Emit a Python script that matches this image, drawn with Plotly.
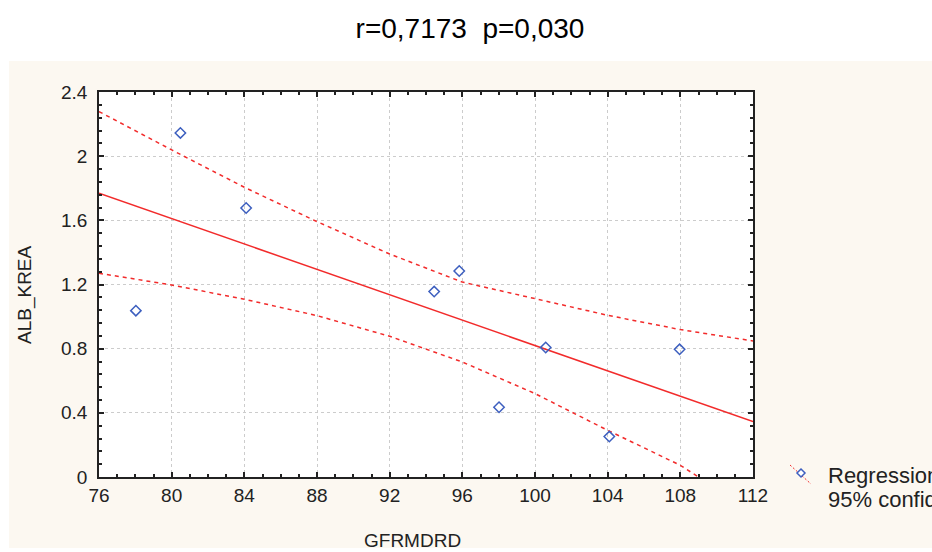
#!/usr/bin/env python

"""
Scatter of ALB_KREA against GFRMDRD with regression line and 95% confidence band.
"""
import plotly.graph_objs as go

################################################################################
################################# Chart Data ###################################
################################################################################

GFR = [80.48, 84.10, 78.03, 95.83, 94.45, 100.59, 98.02, 104.09, 107.96]
ALB_KREA = [2.145, 1.677, 1.037, 1.284, 1.156, 0.807, 0.435, 0.252, 0.796]

### Regression line end points
REG_X = [76, 112]
REG_Y = [1.769, 0.345]

### Confidence band, read at the grid lines
UPPER_X = [76, 80, 84, 88, 92, 96, 100, 104, 108, 112]
UPPER_Y = [2.278, 2.039, 1.806, 1.592, 1.390, 1.215, 1.112, 1.008, 0.919, 0.848]
LOWER_X = [76, 80, 84, 88, 92, 96, 100, 104, 108, 109.0]
LOWER_Y = [1.270, 1.197, 1.108, 1.006, 0.877, 0.717, 0.520, 0.291, 0.073, 0.0]

X_TICKS = [76, 80, 84, 88, 92, 96, 100, 104, 108, 112]
Y_TICKS = [0, 0.4, 0.8, 1.2, 1.6, 2.0, 2.4]
Y_TICK_TEXT = ['0', '0.4', '0.8', '1.2', '1.6', '2', '2.4']

TITLE = 'r=0,7173  p=0,030'

################################################################################
################################### Styles #####################################
################################################################################

CREAM = '#fcf8f1'
RED = '#f22b2b'
BLUE = '#3d5fbf'
FONT = 'Liberation Sans, Arial, sans-serif'
W, H = 932, 552
L, R, T, B = 99, 179, 92, 75
PW, PH = W - L - R, H - T - B


def px(x):
    return (x - L) / PW


def py(y):
    return (H - B - y) / PH


################################################################################
################################### Figure #####################################
################################################################################

fig = go.Figure()

fig.add_trace(go.Scatter(x=UPPER_X, y=UPPER_Y, mode='lines', showlegend=False,
                         line=dict(color=RED, width=1.5, dash='4px,4px')))
fig.add_trace(go.Scatter(x=LOWER_X, y=LOWER_Y, mode='lines', showlegend=False,
                         line=dict(color=RED, width=1.5, dash='4px,4px')))
fig.add_trace(go.Scatter(x=REG_X, y=REG_Y, mode='lines', showlegend=False,
                         line=dict(color=RED, width=1.5)))
fig.add_trace(go.Scatter(x=GFR, y=ALB_KREA, mode='markers', showlegend=False,
                         marker=dict(symbol='diamond-open', size=8, color=BLUE,
                                     line=dict(width=1.5, color=BLUE))))

axis_common = dict(
    showline=True, linecolor='#222222', linewidth=1.5, mirror='ticks',
    ticks='inside', ticklen=5, tickwidth=1.5, tickcolor='#222222',
    showgrid=True, gridcolor='#cccccc', griddash='dot', gridwidth=1,
    zeroline=False, tickfont=dict(family=FONT, size=19, color='#222222'),
)

fig.update_xaxes(range=[76, 112], tickvals=X_TICKS,
                 minor=dict(dtick=1, ticks='inside', ticklen=3, tickwidth=1.5,
                            tickcolor='#222222', showgrid=False),
                 **axis_common)
fig.update_yaxes(range=[0, 2.4], tickvals=Y_TICKS, ticktext=Y_TICK_TEXT,
                 ticklabelstandoff=6,
                 minor=dict(dtick=0.08, ticks='inside', ticklen=3, tickwidth=1.5,
                            tickcolor='#222222', showgrid=False),
                 **axis_common)

### Cream panel behind everything, white plot area on top of it
shapes = [
    dict(type='rect', xref='paper', yref='paper', layer='below',
         x0=px(9), x1=px(940), y0=py(548), y1=py(61),
         fillcolor=CREAM, line=dict(width=0)),
    dict(type='rect', xref='paper', yref='paper', layer='below',
         x0=0, x1=1, y0=0, y1=1, fillcolor='white', line=dict(width=0)),
    ### Legend icon
    dict(type='line', xref='paper', yref='paper',
         x0=px(790), y0=py(465), x1=px(811), y1=py(484),
         line=dict(color=RED, width=1, dash='2px,2px')),
    dict(type='path', xref='paper', yref='paper',
         path='M {a},{b} L {c},{d} L {a},{e} L {f},{d} Z'.format(
             a=px(801), b=py(469), c=px(805), d=py(473), e=py(477), f=px(797)),
         fillcolor='white', line=dict(color=BLUE, width=1.5)),
]

annotations = [
    dict(text='ALB_KREA', xref='paper', yref='paper', x=px(25), y=py(295),
         textangle=-90, showarrow=False, xanchor='center', yanchor='middle',
         font=dict(family=FONT, size=19, color='#222222')),
    dict(text='GFRMDRD', xref='paper', yref='paper', x=px(412), y=py(540),
         showarrow=False, xanchor='center', yanchor='middle',
         font=dict(family=FONT, size=19, color='#222222')),
    ### Legend text runs off the right edge, as in the original
    dict(text='Regression', xref='paper', yref='paper', x=px(826), y=py(475),
         showarrow=False, xanchor='left', yanchor='middle',
         font=dict(family=FONT, size=22, color='#222222')),
    dict(text='95% confidence', xref='paper', yref='paper', x=px(826), y=py(499),
         showarrow=False, xanchor='left', yanchor='middle',
         font=dict(family=FONT, size=22, color='#222222')),
]

fig.update_layout(
    width=W, height=H,
    margin=dict(l=L, r=R, t=T, b=B, pad=0),
    paper_bgcolor='white', plot_bgcolor='rgba(0,0,0,0)',
    title=dict(text=TITLE, x=470 / W, y=1 - 28 / H, xanchor='center',
               yanchor='middle', font=dict(family=FONT, size=28, color='black')),
    shapes=shapes, annotations=annotations, showlegend=False,
)

### Drop the default page margin so the figure sits at the window corner
fig.write_html("out.html", config={'displayModeBar': False},
               post_script="document.body.style.margin='0';")
